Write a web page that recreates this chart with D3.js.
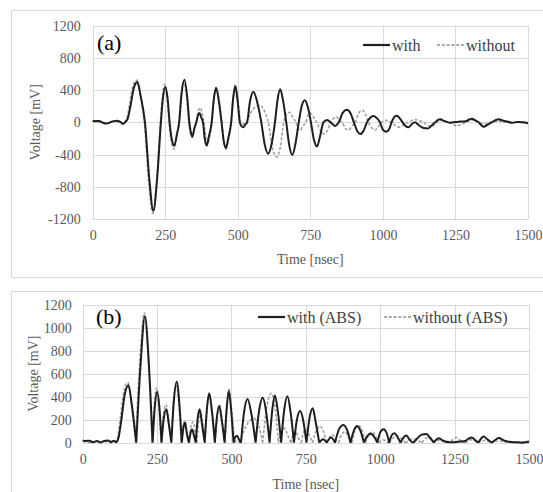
<!DOCTYPE html>
<html>
<head>
<meta charset="utf-8">
<script src="https://cdn.jsdelivr.net/npm/d3@7"></script>
<style>
  body { margin: 0; background: #fff; }
  svg { display: block; }
</style>
</head>
<body>
<svg id="chart" width="543" height="492"></svg>
<script>
// time [nsec], voltage [mV]
const withWave = [
  [0,20],[10,15],[22,18],[35,-5],[48,-15],[60,0],[72,15],[85,20],[95,5],[105,-18],[112,5],
  [120,40],[130,200],[142,430],[154,500],[165,330],[180,0],[195,-700],[209,-1100],[222,-700],
  [235,0],[242,300],[250,440],[258,300],[265,0],[272,-200],[281,-290],[290,-150],[298,0],
  [306,350],[316,530],[326,300],[333,0],[338,-120],[344,-175],[350,-80],[357,0],[364,100],
  [368,115],[374,60],[380,0],[386,-200],[393,-290],[400,-180],[410,0],[417,280],[425,430],
  [434,280],[444,0],[451,-220],[459,-320],[467,-200],[477,0],[484,300],[491,450],[499,280],
  [507,0],[513,-50],[519,-60],[525,-30],[532,0],[542,260],[554,380],[567,250],[581,0],
  [593,-280],[605,-390],[617,-260],[628,0],[637,280],[646,410],[656,270],[667,0],[677,-280],
  [688,-405],[699,-260],[710,0],[720,200],[731,275],[742,180],[752,0],[762,-210],[773,-300],
  [783,-180],[795,0],[808,30],[820,0],[835,-45],[848,0],[862,120],[876,155],[890,100],[900,0],
  [912,-110],[922,-145],[934,-100],[945,0],[957,60],[968,78],[980,50],[990,0],[1000,-90],
  [1011,-118],[1022,-80],[1030,0],[1040,70],[1048,82],[1058,50],[1068,0],[1078,-45],[1088,-62],
  [1100,-20],[1111,0],[1122,-30],[1140,-70],[1155,-75],[1168,-40],[1180,0],[1190,30],[1198,38],
  [1212,15],[1232,-5],[1250,5],[1267,10],[1285,15],[1297,35],[1307,45],[1320,20],[1330,0],
  [1340,-40],[1347,-55],[1360,-30],[1375,0],[1390,30],[1399,40],[1415,20],[1428,10],[1445,-5],
  [1463,5],[1480,0],[1500,-10]
];

const withoutWave = [
  [0,10],[12,5],[25,0],[40,-12],[52,-10],[65,5],[78,10],[90,0],[100,-20],[110,0],[118,50],
  [128,250],[140,470],[152,525],[163,350],[178,0],[193,-750],[207,-1130],[220,-750],[233,0],
  [240,300],[248,480],[256,320],[263,0],[270,-220],[280,-330],[290,-180],[297,0],[305,350],
  [314,500],[324,300],[331,0],[337,-140],[343,-190],[350,-80],[357,0],[364,140],[371,180],
  [378,90],[384,0],[390,-200],[396,-270],[403,-180],[411,0],[418,280],[426,420],[435,280],
  [445,0],[452,-230],[460,-330],[468,-210],[478,0],[485,300],[492,465],[500,300],[510,0],
  [518,-20],[528,0],[545,120],[560,190],[577,210],[592,140],[605,0],[620,-330],[634,-430],
  [647,-300],[658,0],[668,100],[678,125],[690,60],[700,0],[708,-80],[715,-100],[725,-40],
  [735,0],[742,90],[750,115],[762,60],[772,0],[785,-100],[798,-145],[810,-90],[820,0],
  [832,55],[840,68],[852,20],[860,0],[870,-70],[882,-95],[895,-40],[905,0],[916,110],
  [928,150],[940,100],[950,0],[962,-70],[973,-95],[985,-50],[995,0],[1005,20],[1012,25],
  [1020,10],[1030,0],[1045,-45],[1058,-60],[1072,-30],[1085,0],[1098,20],[1110,35],[1125,20],
  [1140,0],[1155,-40],[1170,-45],[1183,-10],[1195,20],[1205,30],[1220,10],[1240,-20],
  [1255,-45],[1270,-20],[1285,0],[1300,20],[1312,30],[1325,5],[1340,-15],[1355,-20],[1370,0],
  [1385,10],[1400,15],[1420,5],[1440,-10],[1460,0],[1480,5],[1500,0]
];

const timeTicks = [0, 250, 500, 750, 1000, 1250, 1500];
const voltTicksA = [-1200, -800, -400, 0, 400, 800, 1200];
const voltTicksB = [0, 200, 400, 600, 800, 1000, 1200];
const legendA = ["with", "without"];
const legendB = ["with (ABS)", "without (ABS)"];

const svg = d3.select("#chart");
const font = "'Liberation Serif', 'Times New Roman', serif";
const gridColor = "#d9d9d9";
const tickColor = "#595959";
const plain = d => String(d);

// split an |v| series into lobes at the zero points so the dips stay sharp
function lobes(pts) {
  const out = [];
  let cur = [];
  pts.forEach(function(p) {
    const q = [p[0], Math.abs(p[1])];
    cur.push(q);
    if (p[1] === 0 && cur.length > 1) {
      out.push(cur);
      cur = [q];
    }
  });
  if (cur.length > 1) out.push(cur);
  return out;
}

function panel(o) {
  // outer frame
  svg.append("rect")
    .attr("x", o.frame[0] + 0.5).attr("y", o.frame[1] + 0.5)
    .attr("width", o.frame[2]).attr("height", o.frame[3])
    .attr("fill", "none").attr("stroke", gridColor);

  const x = d3.scaleLinear().domain([0, 1500]).range([o.left, o.right]);
  const y = d3.scaleLinear().domain(o.yDomain).range([o.bottom, o.top]);

  const g = svg.append("g");

  g.selectAll(".vgrid").data(timeTicks).join("line")
    .attr("x1", d => Math.round(x(d)) + 0.5).attr("x2", d => Math.round(x(d)) + 0.5)
    .attr("y1", o.top).attr("y2", o.bottom)
    .attr("stroke", gridColor);
  g.selectAll(".hgrid").data(o.yTicks).join("line")
    .attr("x1", o.left).attr("x2", o.right)
    .attr("y1", d => Math.round(y(d)) + 0.5).attr("y2", d => Math.round(y(d)) + 0.5)
    .attr("stroke", gridColor);

  const yAxis = g.append("g")
    .attr("transform", "translate(" + o.left + ",0)")
    .call(d3.axisLeft(y).tickValues(o.yTicks).tickFormat(plain).tickSize(0).tickPadding(o.yPad));
  const xAxis = g.append("g")
    .attr("transform", "translate(0," + o.bottom + ")")
    .call(d3.axisBottom(x).tickValues(timeTicks).tickFormat(plain).tickSize(0).tickPadding(11));
  [xAxis, yAxis].forEach(function(a) {
    a.select(".domain").remove();
    a.selectAll("text")
      .style("font-family", font).style("font-size", "14px").attr("fill", tickColor);
  });

  const line = d3.line().x(d => x(d[0])).y(d => y(d[1])).curve(d3.curveMonotoneX);
  const pathOf = o.abs
    ? pts => lobes(pts).map(l => line(l)).join("")
    : pts => line(pts);

  g.append("path")
    .attr("d", pathOf(withoutWave))
    .attr("fill", "none").attr("stroke", "#a0a0a0")
    .attr("stroke-width", 1.6).attr("stroke-dasharray", "3,1.8");
  g.append("path")
    .attr("d", pathOf(withWave))
    .attr("fill", "none").attr("stroke", "#1e1e1e")
    .attr("stroke-width", 2);

  // panel tag
  svg.append("text")
    .attr("x", o.tag[1]).attr("y", o.tag[2])
    .style("font-family", font).style("font-size", "22px")
    .attr("fill", "#000").text(o.tag[0]);

  // legend
  const lg = svg.append("g");
  lg.append("line")
    .attr("x1", o.leg[0]).attr("x2", o.leg[0] + 27)
    .attr("y1", o.leg[2]).attr("y2", o.leg[2])
    .attr("stroke", "#1e1e1e").attr("stroke-width", 2.2);
  lg.append("text")
    .attr("x", o.leg[0] + 29).attr("y", o.leg[2]).attr("dy", "0.35em")
    .style("font-family", font).style("font-size", "16px")
    .attr("fill", "#404040").text(o.legText[0]);
  lg.append("line")
    .attr("x1", o.leg[1]).attr("x2", o.leg[1] + 28)
    .attr("y1", o.leg[2]).attr("y2", o.leg[2])
    .attr("stroke", "#8c8c8c").attr("stroke-width", 1.4).attr("stroke-dasharray", "3,1.8");
  lg.append("text")
    .attr("x", o.leg[1] + 29).attr("y", o.leg[2]).attr("dy", "0.35em")
    .style("font-family", font).style("font-size", "16px")
    .attr("fill", "#404040").text(o.legText[1]);

  // axis titles
  svg.append("text")
    .attr("x", (o.left + o.right) / 2).attr("y", o.xTitleY)
    .attr("text-anchor", "middle").attr("dy", "0.35em")
    .style("font-family", font).style("font-size", "14px")
    .attr("fill", tickColor).text("Time [nsec]");
  svg.append("text")
    .attr("transform", "translate(" + o.yTitleX + "," + ((o.top + o.bottom) / 2) + ") rotate(-90)")
    .attr("text-anchor", "middle").attr("dy", "0.35em")
    .style("font-family", font).style("font-size", "14px")
    .attr("fill", tickColor).text("Voltage [mV]");
}

panel({
  frame: [11, 10, 545, 267],
  left: 92.7, right: 528, top: 25.7, bottom: 219,
  yDomain: [-1200, 1200], yTicks: voltTicksA, yPad: 12,
  abs: false,
  tag: ["(a)", 97, 50],
  leg: [363, 437, 45], legText: legendA,
  xTitleY: 259, yTitleX: 35
});

panel({
  frame: [11, 291, 545, 220],
  left: 82.7, right: 529, top: 304.7, bottom: 442.7,
  yDomain: [0, 1200], yTicks: voltTicksB, yPad: 11,
  abs: true,
  tag: ["(b)", 96, 324],
  leg: [258, 384, 317], legText: legendB,
  xTitleY: 484, yTitleX: 33
});
</script>
</body>
</html>
